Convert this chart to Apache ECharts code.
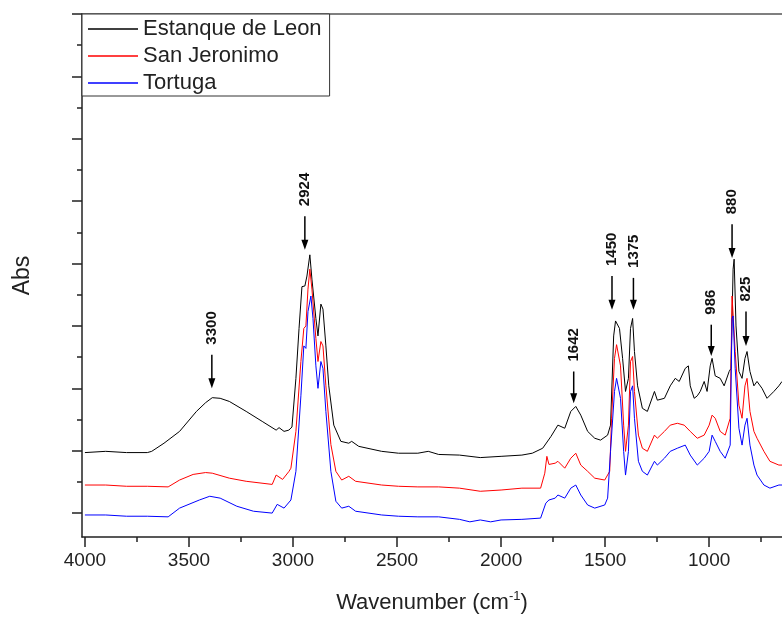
<!DOCTYPE html>
<html><head><meta charset="utf-8">
<script src="https://cdn.jsdelivr.net/npm/echarts@6/dist/echarts.min.js"></script>
<style>html,body{margin:0;padding:0;background:#fff}#c{width:782px;height:619px}</style>
</head><body><div id="c"></div>
<script>
// ---- data ----
const seriesNames = ['Estanque de Leon', 'San Jeronimo', 'Tortuga'];

const estanqueWn = [4000,3900,3800,3700,3679,3620,3545,3464,3420,3388,3350,3306,3225,3148,3081,3067,3043,3020,3005,2986,2971,2957,2943,2933,2919,2909,2890,2880,2866,2856,2842,2828,2804,2770,2732,2718,2684,2574,2493,2400,2350,2300,2200,2100,2000,1900,1850,1800,1760,1727,1694,1665,1641,1617,1584,1550,1522,1488,1474,1459,1450,1431,1416,1402,1388,1378,1368,1359,1344,1321,1297,1263,1249,1215,1187,1163,1144,1115,1100,1091,1072,1057,1043,1024,1010,995,986,971,947,928,904,895,885,880,871,857,842,828,818,804,785,770,746,722,689,665,650];
const estanqueAbs = [0.097,0.099,0.097,0.097,0.099,0.112,0.131,0.163,0.177,0.185,0.184,0.179,0.163,0.147,0.133,0.137,0.131,0.133,0.138,0.216,0.296,0.363,0.364,0.380,0.414,0.375,0.312,0.284,0.335,0.327,0.268,0.204,0.141,0.115,0.112,0.115,0.107,0.099,0.096,0.096,0.099,0.094,0.093,0.089,0.091,0.093,0.096,0.104,0.123,0.141,0.136,0.163,0.171,0.157,0.131,0.120,0.117,0.125,0.141,0.284,0.308,0.296,0.248,0.195,0.216,0.296,0.312,0.259,0.204,0.168,0.163,0.195,0.181,0.184,0.204,0.216,0.211,0.232,0.236,0.204,0.184,0.188,0.195,0.211,0.195,0.236,0.248,0.220,0.216,0.204,0.227,0.232,0.391,0.407,0.300,0.227,0.216,0.248,0.259,0.227,0.204,0.211,0.200,0.184,0.195,0.204,0.211];

const jeronimoWn = [4000,3900,3800,3700,3600,3545,3480,3420,3388,3306,3225,3100,3081,3050,3019,3010,2986,2962,2948,2938,2928,2919,2909,2890,2880,2866,2856,2842,2818,2794,2766,2732,2699,2574,2493,2400,2300,2200,2100,2000,1900,1810,1790,1780,1770,1740,1727,1694,1665,1641,1617,1584,1550,1502,1478,1469,1455,1445,1426,1411,1402,1388,1378,1368,1359,1340,1321,1297,1263,1249,1215,1187,1153,1120,1091,1057,1024,1000,986,971,947,923,899,890,885,875,857,842,828,818,804,785,770,737,708,665,650];
const jeronimoAbs = [0.045,0.045,0.043,0.043,0.042,0.053,0.062,0.065,0.064,0.056,0.051,0.046,0.061,0.054,0.067,0.072,0.131,0.243,0.296,0.300,0.359,0.391,0.359,0.280,0.243,0.275,0.268,0.204,0.110,0.067,0.053,0.059,0.051,0.045,0.043,0.042,0.042,0.040,0.035,0.037,0.040,0.040,0.064,0.091,0.078,0.080,0.083,0.072,0.088,0.096,0.077,0.067,0.056,0.053,0.067,0.152,0.248,0.270,0.236,0.141,0.099,0.141,0.243,0.251,0.195,0.125,0.104,0.099,0.125,0.120,0.131,0.141,0.144,0.141,0.131,0.120,0.125,0.141,0.157,0.152,0.131,0.125,0.152,0.348,0.351,0.259,0.173,0.152,0.204,0.216,0.163,0.131,0.120,0.099,0.083,0.077,0.077];

const tortugaWn = [4000,3900,3800,3700,3600,3545,3450,3400,3350,3270,3190,3100,3076,3043,3010,2986,2962,2948,2938,2928,2914,2904,2890,2880,2866,2856,2842,2818,2794,2766,2732,2699,2574,2493,2400,2300,2200,2150,2100,2050,2000,1900,1810,1785,1770,1740,1727,1694,1665,1641,1617,1584,1550,1502,1488,1474,1455,1445,1426,1411,1402,1388,1378,1368,1359,1340,1321,1297,1263,1249,1215,1187,1153,1115,1091,1057,1024,1000,986,971,947,923,899,890,885,875,857,842,828,818,804,785,770,737,708,665,650];
const tortugaAbs = [-0.003,-0.003,-0.005,-0.005,-0.006,0.008,0.021,0.027,0.024,0.011,0.003,0.000,0.014,0.008,0.021,0.067,0.188,0.268,0.264,0.323,0.348,0.312,0.236,0.200,0.243,0.232,0.163,0.067,0.019,0.008,0.011,0.003,-0.003,-0.005,-0.006,-0.006,-0.010,-0.014,-0.011,-0.014,-0.011,-0.010,-0.008,0.016,0.021,0.024,0.029,0.024,0.040,0.045,0.029,0.013,0.008,0.013,0.024,0.099,0.195,0.216,0.184,0.099,0.061,0.099,0.195,0.204,0.152,0.083,0.067,0.061,0.083,0.077,0.088,0.099,0.104,0.109,0.093,0.077,0.088,0.099,0.125,0.115,0.099,0.088,0.109,0.312,0.316,0.232,0.136,0.109,0.141,0.152,0.109,0.077,0.061,0.045,0.040,0.045,0.045];

// peak annotations: arrow position (wavenumber), arrow start / tip (Abs), label
const peakWn    = [3390, 2943, 1651, 1467, 1364, 990, 890, 823];
const arrowTop  = [0.254, 0.476, 0.227, 0.380, 0.377, 0.302, 0.463, 0.323];
const arrowTip  = [0.200, 0.422, 0.176, 0.326, 0.326, 0.252, 0.409, 0.268];
const peakLabel = ['3300', '2924', '1642', '1450', '1375', '986', '880', '825'];

// ticks
const xMajorTicks = [4000, 3500, 3000, 2500, 2000, 1500, 1000];
const xMinorTicks = [3750, 3250, 2750, 2250, 1750, 1250, 750];
const yMajorTicks = [0, 0.1, 0.2, 0.3, 0.4, 0.5, 0.6, 0.7, 0.8];
const yMinorTicks = [0.05, 0.15, 0.25, 0.35, 0.45, 0.55, 0.65, 0.75];

// ---- chart ----
const FONT = '"Liberation Sans", Arial, sans-serif';
const X_MIN = 650, X_MAX = 4014, Y_MIN = -0.0383, Y_MAX = 0.8;
function pairs(w, a) { const n = Math.min(w.length, a.length), r = []; for (let i = 0; i < n; i++) r.push([w[i], a[i]]); return r; }

const chart = echarts.init(document.getElementById('c'), null, { renderer: 'canvas' });
const xBase = { type: 'value', min: X_MIN, max: X_MAX, inverse: true, gridIndex: 0, splitLine: { show: false } };
const yBase = { type: 'value', min: Y_MIN, max: Y_MAX, gridIndex: 0, splitLine: { show: false }, axisLabel: { show: false } };
const axisColor = '#222';

const annData = peakWn.map((w, i) => [w, arrowTop[i], arrowTip[i]]);

chart.setOption({
  animation: false,
  grid: { left: 82, right: -3, top: 14, bottom: 80 },
  legend: {
    data: seriesNames, orient: 'vertical', left: 82, top: 14,
    icon: 'rect', itemWidth: 50, itemHeight: 1.5, itemGap: 5,
    padding: [4, 8, 2, 6], borderColor: '#333', borderWidth: 1, backgroundColor: '#fff',
    textStyle: { fontSize: 22, fontFamily: FONT, color: '#222', lineHeight: 22 }
  },
  xAxis: [
    Object.assign({}, xBase, {
      position: 'bottom',
      axisLine: { show: true, onZero: false, lineStyle: { color: axisColor, width: 1.5 } },
      axisTick: { show: true, length: 10, customValues: xMajorTicks, lineStyle: { color: axisColor, width: 1.5 } },
      axisLabel: { show: true, customValues: xMajorTicks, formatter: function (v) { return String(v); },
                   fontSize: 19, fontFamily: FONT, color: '#222', margin: 14 },
      name: '{a|Wavenumber (cm}{b|-1}{a|)}', nameLocation: 'middle', nameGap: 53,
      nameTextStyle: { rich: {
        a: { fontSize: 22, fontFamily: FONT, color: '#222', lineHeight: 26 },
        b: { fontSize: 13, fontFamily: FONT, color: '#222', lineHeight: 12, verticalAlign: 'top' }
      } }
    }),
    Object.assign({}, xBase, {
      position: 'bottom', offset: 0,
      axisLine: { show: true, onZero: false, lineStyle: { color: 'rgba(0,0,0,0)', width: 1 } },
      axisTick: { show: true, length: 5, customValues: xMinorTicks, lineStyle: { color: axisColor, width: 1.5 } },
      axisLabel: { show: false }
    }),
    Object.assign({}, xBase, {
      position: 'top',
      axisLine: { show: true, onZero: false, lineStyle: { color: '#555', width: 1.5 } },
      axisTick: { show: false }, axisLabel: { show: false }
    })
  ],
  yAxis: [
    Object.assign({}, yBase, {
      position: 'left',
      axisLine: { show: true, onZero: false, lineStyle: { color: axisColor, width: 1.5 } },
      axisTick: { show: true, length: 10, customValues: yMajorTicks, lineStyle: { color: axisColor, width: 1.5 } },
      name: 'Abs', nameLocation: 'middle', nameGap: 48,
      nameTextStyle: { fontSize: 23, fontFamily: FONT, color: '#222' }
    }),
    Object.assign({}, yBase, {
      position: 'left', offset: 0,
      axisLine: { show: true, onZero: false, lineStyle: { color: 'rgba(0,0,0,0)', width: 1 } },
      axisTick: { show: true, length: 5, customValues: yMinorTicks, lineStyle: { color: axisColor, width: 1.5 } }
    })
  ],
  series: [
    { name: seriesNames[0], type: 'line', data: pairs(estanqueWn, estanqueAbs), xAxisIndex: 0, yAxisIndex: 0,
      symbol: 'none', showSymbol: false, color: '#000', lineStyle: { color: '#000', width: 1 }, z: 2 },
    { name: seriesNames[1], type: 'line', data: pairs(jeronimoWn, jeronimoAbs), xAxisIndex: 0, yAxisIndex: 0,
      symbol: 'none', showSymbol: false, color: '#ff0000', lineStyle: { color: '#ff0000', width: 1 }, z: 3 },
    { name: seriesNames[2], type: 'line', data: pairs(tortugaWn, tortugaAbs), xAxisIndex: 0, yAxisIndex: 0,
      symbol: 'none', showSymbol: false, color: '#0000ff', lineStyle: { color: '#0000ff', width: 1 }, z: 4 },
    { name: 'peaks', type: 'custom', xAxisIndex: 0, yAxisIndex: 0, clip: false, z: 6,
      data: annData,
      renderItem: function (params, api) {
        const top = api.coord([api.value(0), api.value(1)]);
        const tip = api.coord([api.value(0), api.value(2)]);
        const x = top[0];
        return { type: 'group', children: [
          { type: 'line', shape: { x1: x, y1: top[1], x2: x, y2: tip[1] - 8 }, style: { stroke: '#000', lineWidth: 1.5 } },
          { type: 'polygon', shape: { points: [[x - 3.5, tip[1] - 10], [x + 3.5, tip[1] - 10], [x, tip[1]]] }, style: { fill: '#000' } },
          { type: 'text', x: x, y: top[1] - 10, rotation: Math.PI / 2,
            style: { text: peakLabel[params.dataIndex], font: 'bold 15px "Liberation Sans", Arial, sans-serif',
                     fill: '#111', align: 'left', verticalAlign: 'middle' } }
        ] };
      }
    }
  ]
});
</script>
</body></html>
